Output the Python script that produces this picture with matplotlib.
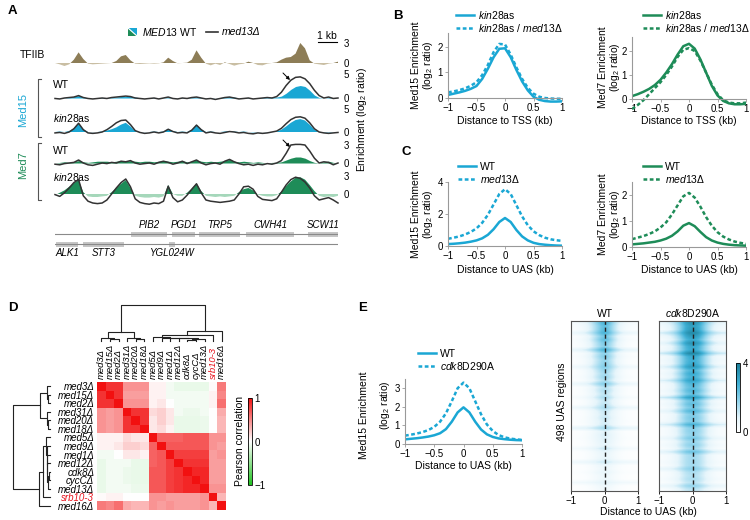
import numpy as np
import matplotlib
matplotlib.use('Agg')
import matplotlib.pyplot as plt
from matplotlib.colors import LinearSegmentedColormap
from matplotlib.patches import Polygon, Rectangle
from matplotlib.lines import Line2D

plt.rcParams['font.family'] = ['Liberation Sans', 'DejaVu Sans']
plt.rcParams['mathtext.fontset'] = 'custom'
plt.rcParams['mathtext.rm'] = 'Liberation Sans'
plt.rcParams['mathtext.it'] = 'Liberation Sans:italic'
plt.rcParams['mathtext.bf'] = 'Liberation Sans:bold'
plt.rcParams['font.size'] = 7

# ---------------- DATA ----------------
# Panel A: genome browser tracks (0..15 kb, 0.25 kb bins)
track_kb = np.linspace(0, 15, 61)
tfiib = [0.0, -0.2, -0.45, -0.2, 0.5, 1.6, 0.6, -0.1, -0.2, -0.15,
         -0.1, -0.05, 0.0, 0.3, 1.0, 1.2, 0.4, -0.1, -0.15, -0.1,
         -0.05, -0.1, -0.05, 0.1, 0.8, 0.3, -0.05, 0.0, 0.05, 0.5,
         1.9, 0.8, -0.1, -0.35, -0.1, -0.3, 0.1, -0.15, -0.4, -0.2,
         -0.1, 0.2, 0.0, -0.3, -0.35, -0.1, 0.0, 0.1, 0.5, 0.8,
         0.9, 1.4, 3.0, 2.2, 0.4, -0.1, -0.2, -0.3, -0.1, 0.0, 0.2]
med15_wt_fill = [0.1, 0.0, 0.05, 0.1, 0.3, 0.5, 0.2, 0.05, 0.0, 0.05,
                 0.1, 0.05, 0.1, 0.2, 0.3, 0.3, 0.4, 0.2, 0.05, 0.0,
                 0.05, 0.1, 0.0, 0.05, 0.1, 0.0, 0.05, 0.1, 0.05, 0.1,
                 0.2, 0.1, 0.05, 0.1, 0.0, 0.1, 0.2, 0.3, 0.2, 0.0,
                 0.05, 0.1, 0.0, 0.05, 0.1, 0.1, 0.2, 0.2, 0.4, 1.0,
                 1.8, 2.4, 2.6, 2.4, 1.6, 0.6, 0.1, 0.0, 0.1, 0.05, 0.0]
med15_wt_line = [-0.1, -0.2, 0.0, 0.1, 0.2, 0.5, 0.1, -0.1, -0.2, -0.1,
                 0.0, -0.1, 0.1, 0.2, 0.3, 0.4, 0.3, 0.0, -0.1, -0.2,
                 -0.1, 0.0, -0.2, 0.0, 0.2, -0.1, -0.2, 0.0, -0.1, 0.1,
                 0.2, 0.0, -0.2, -0.1, -0.3, -0.1, 0.1, 0.2, 0.0, -0.2,
                 -0.1, 0.0, -0.2, -0.1, 0.0, 0.1, 0.0, 0.3, 1.2, 2.6,
                 3.7, 4.3, 4.4, 4.0, 3.0, 1.6, 0.5, 0.0, 0.2, -0.1, 0.0]
med15_kin_fill = [0.0, 0.1, 0.0, 0.2, 0.8, 2.0, 0.6, 0.0, -0.1, 0.0,
                  0.1, 0.3, 0.6, 1.0, 1.6, 2.0, 1.2, 0.2, 0.0, -0.1,
                  0.0, 0.1, 0.0, 0.1, 0.7, 0.2, 0.0, 0.1, 0.0, 0.5,
                  1.6, 0.6, 0.0, 0.1, 0.0, 0.0, 0.1, 0.2, 0.1, 0.0,
                  0.1, 0.0, -0.2, -0.1, 0.0, -0.1, 0.0, 0.1, 0.5, 1.2,
                  2.0, 2.6, 2.8, 2.5, 1.6, 0.5, 0.0, -0.2, -0.3, -0.1, 0.0]
med15_kin_line = [-0.2, -0.1, -0.3, 0.0, 0.7, 1.9, 0.5, -0.2, -0.3, -0.2,
                  0.0, 0.5, 1.2, 2.0, 2.5, 2.6, 1.6, 0.3, -0.1, -0.3,
                  -0.2, 0.0, -0.2, 0.0, 0.6, 0.1, -0.2, -0.1, -0.2, 0.4,
                  1.5, 0.5, -0.2, 0.0, -0.2, -0.3, -0.1, 0.1, 0.0, -0.2,
                  -0.1, -0.3, -0.4, -0.2, -0.3, -0.2, 0.0, 0.2, 0.8, 1.8,
                  2.7, 3.2, 3.3, 3.0, 2.0, 0.7, 0.0, -0.2, -0.3, -0.2, -0.1]
med7_wt_fill = [0.0, 0.1, 0.2, 0.1, 0.2, 0.4, 0.2, 0.1, 0.2, 0.3,
                0.3, 0.3, 0.2, 0.3, 0.4, 0.3, 0.4, 0.3, 0.2, 0.3,
                0.3, 0.2, 0.3, 0.4, 0.3, 0.2, 0.3, 0.4, 0.2, 0.3,
                0.5, 0.3, 0.2, 0.3, 0.2, 0.3, 0.4, 0.6, 0.3, 0.2,
                0.3, 0.2, 0.1, 0.2, 0.1, 0.0, 0.1, 0.1, 0.2, 0.5,
                0.8, 1.0, 1.0, 0.8, 0.4, 0.1, 0.0, 0.2, 0.3, 0.1, 0.0]
med7_wt_line = [-0.2, -0.3, -0.1, 0.0, 0.1, 0.5, 0.0, -0.3, -0.4, -0.2,
                0.0, -0.1, 0.1, 0.0, 0.3, 0.2, 0.4, 0.0, -0.2, -0.1,
                0.0, -0.2, 0.1, 0.3, 0.1, -0.2, 0.0, 0.3, -0.1, 0.2,
                0.5, 0.0, -0.3, -0.1, 0.0, -0.2, 0.3, 0.6, 0.2, -0.1,
                -0.3, -0.2, -0.4, -0.2, -0.3, -0.1, -0.2, 0.0, 0.4, 1.6,
                3.0, 3.1, 3.1, 3.0, 2.0, 0.8, 0.0, 0.2, 0.1, -0.3, 0.0]
med7_kin_fill = [-0.2, 0.2, 0.6, 1.2, 1.8, 2.3, 0.3, -0.4, -0.5, -0.5,
                 -0.4, -0.3, 0.3, 1.0, 1.7, 2.3, 1.0, -0.3, -0.5, -0.6,
                 -0.6, -0.5, -0.6, -0.4, 1.5, 0.0, -0.3, -0.3, 0.2, 0.9,
                 1.8, 0.5, -0.3, -0.4, -0.5, -0.4, -0.5, -0.4, -0.3, 0.3,
                 0.8, 1.0, 0.6, -0.1, -0.3, -0.4, -0.4, -0.2, 0.4, 1.3,
                 2.1, 2.7, 2.8, 2.4, 1.5, 0.5, -0.3, -0.5, -0.4, -0.5, -0.3]
med7_kin_line = [-0.1, -0.4, 0.2, 1.0, 1.9, 2.4, -0.3, -1.2, -1.5, -1.6,
                 -1.5, -1.0, 0.0, 1.0, 1.9, 2.5, 1.2, -0.8, -1.4, -1.6,
                 -1.7, -1.5, -1.6, -1.2, 1.3, -0.6, -1.3, -1.0, -0.2, 0.8,
                 1.7, 0.2, -1.0, -1.2, -1.3, -1.4, -1.3, -1.2, -1.0, 0.0,
                 1.2, 1.3, 0.8, -0.4, -0.9, -1.0, -1.1, -0.8, 0.3, 1.5,
                 2.4, 2.8, 2.6, 2.0, 1.0, -0.3, -1.0, -0.8, -0.6, -1.0, -1.5]

genes_top = ['PIB2', 'PGD1', 'TRP5', 'CWH41', 'SCW11']
genes_top_start = [4.03, 6.2, 7.63, 10.12, 13.4]
genes_top_end = [5.94, 7.42, 9.8, 12.67, 15.0]
genes_bot = ['ALK1', 'STT3', 'YGL024W']
genes_bot_start = [0.05, 1.48, 6.04]
genes_bot_end = [1.22, 3.66, 6.36]

# Panels B, C, E: metagene profiles (-1..1 kb, 0.1 kb bins)
prof_x = np.linspace(-1, 1, 21)
b_med15_kin = [0.12, 0.17, 0.22, 0.28, 0.36, 0.47, 0.75, 1.15, 1.6, 1.93, 1.95,
               1.6, 1.1, 0.65, 0.3, 0.05, -0.07, -0.12, -0.14, -0.14, -0.13]
b_med15_kin_med13 = [0.22, 0.26, 0.31, 0.38, 0.48, 0.62, 0.9, 1.3, 1.8, 2.12, 2.1,
                     1.7, 1.2, 0.75, 0.4, 0.17, 0.05, 0.0, -0.02, -0.03, -0.03]
b_med7_kin = [0.12, 0.2, 0.3, 0.42, 0.58, 0.8, 1.1, 1.45, 1.85, 2.2, 2.3,
              2.1, 1.65, 1.1, 0.55, 0.15, -0.08, -0.18, -0.22, -0.22, -0.2]
b_med7_kin_med13 = [-0.42, -0.25, -0.05, 0.2, 0.45, 0.7, 1.0, 1.35, 1.75, 2.05, 2.12,
                    2.0, 1.6, 1.1, 0.6, 0.2, -0.05, -0.15, -0.18, -0.18, -0.15]
c_med15_wt = [0.12, 0.14, 0.17, 0.21, 0.27, 0.35, 0.48, 0.7, 1.05, 1.5, 1.75,
              1.5, 1.0, 0.6, 0.35, 0.2, 0.12, 0.08, 0.05, 0.03, 0.02]
c_med15_med13 = [0.45, 0.52, 0.6, 0.72, 0.88, 1.1, 1.45, 1.95, 2.6, 3.25, 3.55,
                 3.25, 2.55, 1.85, 1.3, 0.92, 0.68, 0.52, 0.42, 0.36, 0.32]
c_med7_wt = [0.1, 0.12, 0.14, 0.17, 0.2, 0.25, 0.32, 0.43, 0.6, 0.82, 0.92,
             0.8, 0.58, 0.38, 0.25, 0.17, 0.12, 0.09, 0.07, 0.06, 0.05]
c_med7_med13 = [0.3, 0.36, 0.42, 0.5, 0.6, 0.75, 0.95, 1.25, 1.6, 1.95, 2.08,
                1.9, 1.55, 1.15, 0.82, 0.57, 0.4, 0.29, 0.21, 0.16, 0.12]
e_med15_wt = [0.25, 0.28, 0.31, 0.35, 0.4, 0.47, 0.58, 0.8, 1.2, 1.7, 1.97,
              1.7, 1.2, 0.78, 0.52, 0.38, 0.3, 0.26, 0.23, 0.21, 0.2]
e_med15_cdk8 = [0.45, 0.5, 0.56, 0.64, 0.75, 0.92, 1.2, 1.65, 2.3, 3.0, 3.3,
                3.0, 2.3, 1.6, 1.05, 0.7, 0.48, 0.36, 0.29, 0.25, 0.22]

# Panel E heatmaps: column profile x row amplitude + row offset
hm_profile_wt = [0.05, 0.07, 0.1, 0.14, 0.2, 0.3, 0.42, 0.58, 0.75, 0.92, 1.0,
                 0.92, 0.75, 0.55, 0.38, 0.25, 0.16, 0.1, 0.07, 0.05, 0.04]
hm_profile_cdk8 = [0.08, 0.11, 0.15, 0.2, 0.28, 0.4, 0.55, 0.72, 0.88, 0.97, 1.0,
                   0.97, 0.88, 0.72, 0.55, 0.4, 0.28, 0.19, 0.13, 0.1, 0.08]
hm_amp_wt = [2.5, 2.3, 2.4, 2.2, 2.1, 2.3, 2.0, 1.9, 2.1, 1.8,
             1.9, 1.7, 1.8, 1.6, 1.7, 1.5, 1.6, 1.4, 1.5, 1.3,
             1.4, 1.2, 1.3, 1.1, 1.2, 1.0, 1.1, 1.0, 1.1, 0.9,
             1.0, 0.9, 0.8, 0.9, 0.8, 0.8, 0.7, 0.8, 0.7, 0.6,
             0.7, 0.6, 0.6, 0.5, 0.6, 0.5, 0.5, 0.4, 0.5, 0.4]
hm_off_wt = [0.2, 0.1, 0.05, 0.5, 0.05, 0.1, 0.05, 0.05, 0.6, 0.05,
             0.1, 0.05, 0.05, 0.4, 0.05, 0.05, 0.1, 0.05, 0.5, 0.05,
             0.05, 0.05, 0.2, 0.05, 0.05, 0.5, 0.05, 0.05, 0.05, 0.1,
             0.05, 0.7, 0.05, 0.05, 0.1, 0.05, 0.05, 0.3, 0.05, 0.05,
             0.05, 0.5, 0.05, 0.05, 0.1, 0.05, 0.05, 0.4, 0.05, 0.05]
hm_amp_cdk8 = [3.1, 3.0, 3.2, 2.9, 3.1, 2.8, 3.0, 2.9, 2.7, 2.9,
               2.8, 2.6, 2.8, 2.7, 2.5, 2.7, 2.6, 2.4, 2.5, 2.3,
               2.4, 2.2, 2.3, 2.1, 2.2, 2.0, 2.1, 1.9, 2.0, 1.8,
               1.9, 1.8, 1.8, 1.7, 1.7, 1.6, 1.7, 1.5, 1.6, 1.5,
               1.5, 1.4, 1.5, 1.3, 1.4, 1.3, 1.3, 1.2, 1.3, 1.2]
hm_off_cdk8 = [0.4, 0.2, 0.1, 0.8, 0.2, 0.1, 0.5, 0.1, 0.2, 0.9,
               0.1, 0.2, 0.1, 0.6, 0.1, 0.2, 0.1, 0.7, 0.1, 0.1,
               0.2, 0.1, 0.9, 0.1, 0.2, 0.1, 0.5, 0.1, 0.1, 0.2,
               0.8, 0.1, 0.1, 0.1, 0.4, 0.1, 0.2, 0.1, 0.7, 0.1,
               0.1, 0.2, 0.1, 0.6, 0.1, 0.1, 0.2, 0.1, 0.5, 0.1]

# Panel D: correlation matrix and clustering
strains = ['med3Δ', 'med15Δ', 'med2Δ', 'med31Δ', 'med20Δ', 'med18Δ', 'med5Δ', 'med9Δ',
           'med1Δ', 'med12Δ', 'cdk8Δ', 'cycCΔ', 'med13Δ', 'srb10-3', 'med16Δ']
corr = [
    [1.0, .85, .85, .45, .45, .45, .05, .05, -.05, -.1, -.1, -.1, -.1, .02, .55],
    [.85, 1.0, .85, .4, .4, .4, .05, .05, -.05, -.05, -.05, -.05, -.05, .05, .5],
    [.85, .85, 1.0, .45, .45, .45, .05, .1, 0.0, -.05, -.05, -.05, -.05, .05, .6],
    [.45, .4, .45, 1.0, .85, .85, .15, .2, .1, -.05, -.08, -.08, -.05, 0.0, .35],
    [.45, .4, .45, .85, 1.0, .85, .1, .2, .1, -.1, -.1, -.1, -.08, 0.0, .3],
    [.45, .4, .45, .85, .85, 1.0, .1, .15, .05, -.1, -.1, -.1, -.08, 0.0, .3],
    [.05, .05, .05, .15, .1, .1, 1.0, .65, .65, .65, .7, .7, .7, .45, .45],
    [.05, .05, .1, .2, .2, .15, .65, 1.0, .7, .7, .7, .7, .7, .45, .4],
    [-.05, -.05, 0.0, .1, .1, .05, .65, .7, 1.0, .8, .8, .8, .8, .4, .45],
    [-.1, -.05, -.05, -.05, -.1, -.1, .65, .7, .8, 1.0, .85, .85, .85, .4, .4],
    [-.1, -.05, -.05, -.08, -.1, -.1, .7, .7, .8, .85, 1.0, .9, .9, .4, .4],
    [-.1, -.05, -.05, -.08, -.1, -.1, .7, .7, .8, .85, .9, 1.0, .9, .4, .4],
    [-.1, -.05, -.05, -.05, -.08, -.08, .7, .7, .8, .85, .9, .9, 1.0, .45, .45],
    [.02, .05, .05, 0.0, 0.0, 0.0, .45, .45, .4, .4, .4, .4, .45, 1.0, .3],
    [.55, .5, .6, .35, .3, .3, .45, .4, .45, .4, .4, .4, .45, .3, 1.0],
]
# linkage: (cluster a, cluster b, height); new clusters numbered from 15
linkage = [(1, 2, 0.05), (0, 15, 0.09), (4, 5, 0.05), (3, 17, 0.09), (16, 18, 0.26),
           (10, 11, 0.04), (12, 20, 0.06), (9, 21, 0.07), (8, 22, 0.08), (7, 23, 0.09),
           (6, 24, 0.10), (25, 13, 0.18), (26, 14, 0.29), (19, 27, 1.0)]

# ---------------- STYLE ----------------
CYAN = '#1aa7d4'
CYAN_L = '#a8dcee'
GREEN = '#1e8c58'
GREEN_L = '#a5d7ba'
TAN = '#8d7d57'
TAN_L = '#c9bea3'
DARK = '#333333'
SPINE = '#999999'

W, H = 750, 520
fig = plt.figure(figsize=(7.5, 5.2), dpi=100)


def add_ax(x0, y0, x1, y1):
    return fig.add_axes([x0 / W, 1 - y1 / H, (x1 - x0) / W, (y1 - y0) / H])


ov = fig.add_axes([0, 0, 1, 1])
ov.set_xlim(0, W)
ov.set_ylim(H, 0)
ov.axis('off')


def T(x, y, s, **kw):
    kw.setdefault('va', 'center')
    kw.setdefault('fontsize', 7)
    return ov.text(x, y, s, **kw)


# panel letters
for lab, x, y in [('A', 8, 11), ('B', 393, 16), ('C', 402, 152), ('D', 8, 308), ('E', 358, 308)]:
    T(x, y, lab, fontsize=9.5, fontweight='bold', ha='left')

# ---------------- PANEL A ----------------
TX0, TX1 = 55, 338
tracks = [
    (63, 6.67, -0.8, 3.3, tfiib, None, TAN, TAN_L, 3),
    (98, 4.8, -0.7, 5.3, med15_wt_fill, med15_wt_line, CYAN, CYAN_L, 5),
    (132, 4.6, -0.7, 5.3, med15_kin_fill, med15_kin_line, CYAN, CYAN_L, 5),
    (163, 6.0, -0.8, 3.4, med7_wt_fill, med7_wt_line, GREEN, GREEN_L, 3),
    (194, 6.0, -2.3, 3.4, med7_kin_fill, med7_kin_line, GREEN, GREEN_L, 3),
]
for z, s, lo, hi, fill, line, c, cl, top in tracks:
    ax = add_ax(TX0, z - hi * s, TX1, z - lo * s)
    ax.set_xlim(0, 15)
    ax.set_ylim(lo, hi)
    f = np.array(fill)
    ax.fill_between(track_kb, 0, f, where=f >= 0, interpolate=True, color=c, lw=0)
    ax.fill_between(track_kb, 0, f, where=f <= 0, interpolate=True, color=cl, lw=0)
    if line is not None:
        ax.plot(track_kb, line, color=DARK, lw=1.1, clip_on=False)
    ax.set_xticks([])
    ax.set_yticks([0, top])
    ax.yaxis.tick_right()
    ax.tick_params(axis='y', length=0, pad=4, labelsize=7)
    for sp in ax.spines.values():
        sp.set_visible(False)
    ax.patch.set_alpha(0)

# gene annotation
gax = add_ax(TX0, 215, TX1, 262)
gax.set_xlim(0, 15)
gax.set_ylim(262, 215)
gax.axis('off')
gax.plot([0, 15], [234, 234], color='#8a8a8a', lw=0.8)
gax.plot([0, 15], [244, 244], color='#8a8a8a', lw=0.8)
for name, a, b in zip(genes_top, genes_top_start, genes_top_end):
    gax.add_patch(Rectangle((a, 231.5), b - a, 5, color='#c6c6c6', lw=0))
    gax.text((a + b) / 2, 225, name, ha='center', va='center', style='italic', fontsize=7)
for name, a, b in zip(genes_bot, genes_bot_start, genes_bot_end):
    gax.add_patch(Rectangle((a, 241.5), b - a, 5, color='#c6c6c6', lw=0))
    gax.text((a + b) / 2, 253, name, ha='center', va='center', style='italic', fontsize=7)

# legend A
ov.add_patch(Polygon([(128, 28), (128, 36), (137, 36)], closed=True, color=GREEN, lw=0))
ov.add_patch(Polygon([(128, 28), (137, 28), (137, 36)], closed=True, color=CYAN, lw=0))
ov.plot([128, 137], [28, 36], color='white', lw=0.8)
T(142, 32, r'$\mathit{MED13}$ WT', ha='left', fontsize=7.5)
ov.plot([206, 218], [32, 32], color=DARK, lw=1.2)
T(222, 32, 'med13Δ', ha='left', style='italic', fontsize=7.5)
# scale bar
T(327, 36, '1 kb', ha='center', fontsize=7.5)
ov.plot([318, 318 + (TX1 - TX0) / 15], [41.5, 41.5], color='black', lw=0.8)

# track labels
T(20, 55, 'TFIIB', ha='left', fontsize=7.5)
T(53, 85, 'WT', ha='left', fontsize=7.5)
T(53, 118, r'$\mathit{kin28}$as', ha='left', fontsize=7.5)
T(53, 151, 'WT', ha='left', fontsize=7.5)
T(53, 177, r'$\mathit{kin28}$as', ha='left', fontsize=7.5)
T(23, 110, 'Med15', ha='center', rotation=90, color=CYAN, fontsize=8)
T(23, 165, 'Med7', ha='center', rotation=90, color=GREEN, fontsize=8)
ov.plot([41, 38, 38, 41], [79, 79, 137, 137], color='#555555', lw=0.8)
ov.plot([41, 38, 38, 41], [143, 143, 200, 200], color='#555555', lw=0.8)
T(362, 120, r'Enrichment (log$_2$ ratio)', ha='center', rotation=90, fontsize=7.5)
for y in (73, 140):
    ov.annotate('', xy=(290, y + 7), xytext=(283, y),
                arrowprops=dict(arrowstyle='-|>', color='black', lw=0.7, mutation_scale=5,
                                shrinkA=0, shrinkB=0))

# ---------------- PROFILE PANELS ----------------
XT = [-1, -0.5, 0, 0.5, 1]
XTL = ['\u22121', '\u22120.5', '0', '0.5', '1']


def profile_ax(x0, x1, zpx, s, lo, hi, yticks):
    ax = add_ax(x0, zpx - hi * s, x1, zpx - lo * s)
    ax.set_xlim(-1, 1)
    ax.set_ylim(lo, hi)
    ax.spines['top'].set_visible(False)
    ax.spines['right'].set_visible(False)
    ax.spines['bottom'].set_position(('data', 0))
    ax.spines['left'].set_bounds(0, hi)
    for sp in ('left', 'bottom'):
        ax.spines[sp].set_color(SPINE)
        ax.spines[sp].set_linewidth(0.8)
    ax.set_xticks(XT)
    ax.set_xticklabels(XTL)
    ax.set_yticks(yticks)
    ax.tick_params(length=2, width=0.6, color=SPINE, pad=1.5, labelsize=7)
    ax.patch.set_alpha(0)
    return ax


def profile_legend(ax, color, labels, x, ytop):
    hs = [Line2D([], [], color=color, lw=1.8),
          Line2D([], [], color=color, lw=1.8, ls=(0, (1.5, 1)))]
    ax.legend(hs, labels, loc='upper left', bbox_to_anchor=(x / W, 1 - ytop / H),
              bbox_transform=fig.transFigure, frameon=False, handlelength=1.7,
              handletextpad=0.4, labelspacing=0.1, fontsize=7.5, borderaxespad=0, borderpad=0)


DASH = (0, (1.5, 1))
LW = 1.8

# B left
ax = profile_ax(448, 562, 98, 25.5, -0.2, 2.55, [0, 1, 2])
ax.plot(prof_x, b_med15_kin, color=CYAN, lw=LW)
ax.plot(prof_x, b_med15_kin_med13, color=CYAN, lw=LW, ls=DASH)
profile_legend(ax, CYAN, [r'$\mathit{kin28}$as', r'$\mathit{kin28}$as / $\mathit{med13}\Delta$'], 456, 9)
# B right
ax = profile_ax(632, 746, 99, 24, -0.45, 2.6, [0, 1, 2])
ax.plot(prof_x, b_med7_kin, color=GREEN, lw=LW)
ax.plot(prof_x, b_med7_kin_med13, color=GREEN, lw=LW, ls=DASH)
profile_legend(ax, GREEN, [r'$\mathit{kin28}$as', r'$\mathit{kin28}$as / $\mathit{med13}\Delta$'], 643, 9)
# C left
ax = profile_ax(448, 562, 246, 16, -0.1, 4.0, [0, 2, 4])
ax.plot(prof_x, c_med15_wt, color=CYAN, lw=LW)
ax.plot(prof_x, c_med15_med13, color=CYAN, lw=LW, ls=DASH)
profile_legend(ax, CYAN, ['WT', r'$\mathit{med13}\Delta$'], 458, 162)
# C right
ax = profile_ax(632, 746, 247, 26, -0.05, 2.5, [0, 1, 2])
ax.plot(prof_x, c_med7_wt, color=GREEN, lw=LW)
ax.plot(prof_x, c_med7_med13, color=GREEN, lw=LW, ls=DASH)
profile_legend(ax, GREEN, ['WT', r'$\mathit{med13}\Delta$'], 643, 162)
# E left
ax = profile_ax(405, 522, 444, 18.6, -0.05, 3.5, [0, 1, 2, 3])
ax.plot(prof_x, e_med15_wt, color=CYAN, lw=LW)
ax.plot(prof_x, e_med15_cdk8, color=CYAN, lw=LW, ls=DASH)
profile_legend(ax, CYAN, ['WT', r'$\mathit{cdk8}$D290A'], 418, 349)

# profile axis labels
for cx, y, lab in [(505, 121, 'Distance to TSS (kb)'), (689, 121, 'Distance to TSS (kb)'),
                   (505, 270, 'Distance to UAS (kb)'), (689, 270, 'Distance to UAS (kb)'),
                   (463, 466, 'Distance to UAS (kb)')]:
    T(cx, y, lab, ha='center', fontsize=7.5)
for x, y, name in [(416, 65, 'Med15'), (603, 67, 'Med7'), (416, 214, 'Med15'), (603, 214, 'Med7')]:
    T(x, y, name + ' Enrichment', ha='center', rotation=90, fontsize=7.5)
    T(x + 12, y, r'(log$_2$ ratio)', ha='center', rotation=90, fontsize=7.5)
T(364, 415, 'Med15 Enrichment', ha='center', rotation=90, fontsize=7.5)
T(385, 405, r'(log$_2$ ratio)', ha='center', rotation=90, fontsize=7.5)

# ---------------- PANEL E heatmaps ----------------
ecmap = LinearSegmentedColormap.from_list(
    'e', [(0.0, '#ffffff'), (0.2, '#e6f5fb'), (0.45, '#93d5ed'), (0.7, '#3fb0d5'), (1.0, '#1a7f9a')])
hm_wt = np.array(hm_off_wt)[:, None] + np.array(hm_amp_wt)[:, None] * np.array(hm_profile_wt)[None, :]
hm_cdk8 = np.array(hm_off_cdk8)[:, None] + np.array(hm_amp_cdk8)[:, None] * np.array(hm_profile_cdk8)[None, :]
im = None
for (x0, x1), data, title in [((571, 638), hm_wt, 'WT'), ((659, 726), hm_cdk8, r'$\mathit{cdk8}$D290A')]:
    ax = add_ax(x0, 321, x1, 491)
    im = ax.imshow(data, cmap=ecmap, vmin=0, vmax=4, aspect='auto',
                   extent=[-1, 1, len(data), 0], interpolation='bilinear')
    ax.axvline(0, color='#222222', lw=1, ls=(0, (3, 2)))
    ax.set_xticks([-1, 0, 1])
    ax.set_xticklabels(['\u22121', '0', '1'])
    ax.set_yticks([])
    ax.tick_params(length=2, width=0.6, pad=1.5, labelsize=7)
    for sp in ax.spines.values():
        sp.set_color('#555555')
        sp.set_linewidth(0.8)
    ax.set_title(title, fontsize=7.5, pad=3)
T(648, 512, 'Distance to UAS (kb)', ha='center', fontsize=7.5)
T(562, 402, '498 UAS regions', ha='center', rotation=90, fontsize=7.5)
cax = add_ax(736, 363, 740, 432)
cb = fig.colorbar(im, cax=cax, ticks=[0, 4])
cb.outline.set_linewidth(0.6)
cax.tick_params(length=0, labelsize=7, pad=2)

# ---------------- PANEL D ----------------
dcmap = LinearSegmentedColormap.from_list('d', ['#1fc21f', '#ffffff', '#f21010'])
n = len(strains)
hax = add_ax(97, 382, 226, 510)
him = hax.imshow(np.array(corr), cmap=dcmap, vmin=-1, vmax=1, aspect='auto',
                 extent=[0, n, n, 0], interpolation='nearest')
pos = np.arange(n) + 0.5
hax.set_yticks(pos)
hax.set_yticklabels(strains, style='italic', fontsize=7)
hax.xaxis.tick_top()
hax.set_xticks(pos)
hax.set_xticklabels(strains, style='italic', fontsize=6.8, rotation=90)
hax.tick_params(length=0, pad=2)
for lab in hax.get_xticklabels() + hax.get_yticklabels():
    if lab.get_text() == 'srb10-3':
        lab.set_color('#e8141e')
for sp in hax.spines.values():
    sp.set_visible(False)


def dendro(merges, nleaf):
    p = {i: i + 0.5 for i in range(nleaf)}
    h = {i: 0.0 for i in range(nleaf)}
    segs = []
    for k, (a, b, hh) in enumerate(merges):
        segs.append(([p[a], p[a], p[b], p[b]], [h[a], hh, hh, h[b]]))
        p[nleaf + k] = (p[a] + p[b]) / 2
        h[nleaf + k] = hh
    return segs


segs = dendro(linkage, n)
tdax = add_ax(97, 305, 226, 341)
tdax.set_xlim(0, n)
tdax.set_ylim(0, 1.0)
tdax.axis('off')
ldax = add_ax(13, 382, 50, 510)
ldax.set_xlim(1.0, 0)
ldax.set_ylim(n, 0)
ldax.axis('off')
for xs, ys in segs:
    tdax.plot(xs, ys, color='#222222', lw=0.8, clip_on=False)
    ldax.plot(ys, xs, color='#222222', lw=0.8, clip_on=False)

dcax = add_ax(248, 398, 252, 485)
dcb = fig.colorbar(him, cax=dcax, ticks=[-1, 0, 1])
dcb.ax.set_yticklabels(['\u22121', '0', '1'])
dcb.outline.set_linewidth(0.6)
dcax.tick_params(length=0, labelsize=7, pad=2)
T(240, 441, 'Pearson correlation', ha='center', rotation=90, fontsize=7.5)

fig.savefig('out.png', dpi=100)
